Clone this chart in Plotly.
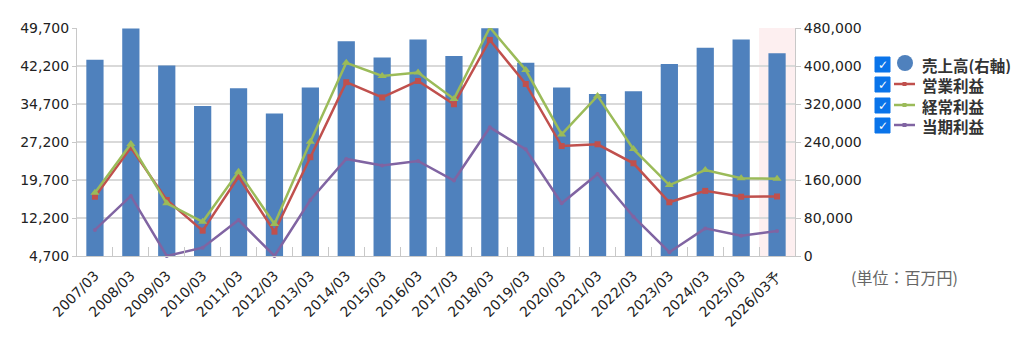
import plotly.graph_objects as go

categories = ["2007/03", "2008/03", "2009/03", "2010/03", "2011/03", "2012/03", "2013/03",
              "2014/03", "2015/03", "2016/03", "2017/03", "2018/03", "2019/03", "2020/03",
              "2021/03", "2022/03", "2023/03", "2024/03", "2025/03", "2026/03予"]

sales = [413000, 479000, 401000, 316000, 353000, 300000, 355000, 452000, 418000, 456000,
         421000, 479500, 407000, 355000, 341000, 347000, 404000, 438500, 456000, 427000]
operating = [16400, 26100, 15750, 9700, 20350, 9500, 24200, 39000, 36000, 39250,
             34650, 47350, 38650, 26400, 26750, 23000, 15300, 17550, 16400, 16450]
ordinary = [17200, 26800, 15100, 11450, 21350, 11000, 27250, 42850, 40250, 40900,
            35700, 49800, 41400, 28700, 36300, 25800, 18700, 21650, 20050, 19950]
net = [9850, 16550, 4700, 6350, 11800, 4700, 15750, 23850, 22550, 23450,
       19600, 30100, 25750, 15100, 20900, 12450, 5450, 10150, 8700, 9650]

left_ticks = [4700, 12200, 19700, 27200, 34700, 42200, 49700]
right_ticks = [0, 80000, 160000, 240000, 320000, 400000, 480000]

legend_names = ["売上高(右軸)", "営業利益", "経常利益", "当期利益"]
unit_label = "(単位：百万円)"

BLUE = "#4f81bd"
RED = "#c0504d"
GREEN = "#9bbb59"
PURPLE = "#8064a2"
FONT = "DejaVu Sans"
CJK = "Noto Sans CJK JP"

fig = go.Figure()
fig.add_trace(go.Bar(x=categories, y=sales, marker=dict(color=BLUE, line=dict(width=0)),
                     width=0.48, yaxis="y", showlegend=False))
fig.add_trace(go.Scatter(x=categories, y=operating, mode="lines+markers", yaxis="y2",
                         line=dict(color=RED, width=2.5),
                         marker=dict(symbol="square", size=6, color=RED),
                         showlegend=False, cliponaxis=False))
fig.add_trace(go.Scatter(x=categories, y=ordinary, mode="lines+markers", yaxis="y2",
                         line=dict(color=GREEN, width=2.5),
                         marker=dict(symbol="triangle-up", size=8, color=GREEN),
                         showlegend=False, cliponaxis=False))
fig.add_trace(go.Scatter(x=categories, y=net, mode="lines+markers", yaxis="y2",
                         line=dict(color=PURPLE, width=2.5),
                         marker=dict(symbol="circle", size=4, color=PURPLE),
                         showlegend=False, cliponaxis=False))

L, R, T, B = 77, 795, 28, 256
W, H = R - L, B - T


def px(x):
    return (x - L) / W


def py(y):
    return (B - y) / H


shapes = []
annotations = []

# forecast band
shapes.append(dict(type="rect", xref="x", yref="paper", x0=18.5, x1=19.5, y0=0, y1=1,
                   fillcolor="#fdeff0", line=dict(width=0), layer="below"))

# custom legend
rows = [64, 84, 105, 125]
for i, (name, yc) in enumerate(zip(legend_names, rows)):
    shapes.append(dict(type="rect", xref="paper", yref="paper",
                       x0=px(875), x1=px(890), y0=py(yc + 8), y1=py(yc - 7),
                       fillcolor="#0a74ea", line=dict(color="#0a74ea", width=1)))
    annotations.append(dict(xref="paper", yref="paper", x=px(882.5), y=py(yc + 0.5),
                            text="<b>✓</b>", showarrow=False, xanchor="center", yanchor="middle",
                            font=dict(family=FONT, size=12, color="white")))
    if i == 0:
        shapes.append(dict(type="circle", xref="paper", yref="paper",
                           x0=px(897), x1=px(913), y0=py(yc + 7), y1=py(yc - 9),
                           fillcolor=BLUE, line=dict(width=0)))
    else:
        col = [RED, GREEN, PURPLE][i - 1]
        shapes.append(dict(type="line", xref="paper", yref="paper",
                           x0=px(894), x1=px(915), y0=py(yc), y1=py(yc),
                           line=dict(color=col, width=2.5)))
        shapes.append(dict(type="rect", xref="paper", yref="paper",
                           x0=px(902.5), x1=px(906.5), y0=py(yc + 2), y1=py(yc - 2),
                           fillcolor=col, line=dict(width=0)))
    annotations.append(dict(xref="paper", yref="paper", x=px(921), y=py(yc),
                            text="<b>" + name + "</b>", showarrow=False,
                            xanchor="left", yanchor="middle", height=19, borderpad=0,
                            font=dict(family=CJK, size=15.5, color="#333333")))

annotations.append(dict(xref="paper", yref="paper", x=px(849), y=py(277),
                        text=unit_label, showarrow=False, xanchor="left", yanchor="middle",
                        font=dict(family=CJK, size=16, color="#666666")))

tick_font = dict(family=FONT, size=14, color="#222222")

fig.update_layout(
    width=1024, height=350,
    margin=dict(l=L, r=1024 - R, t=T, b=350 - B, pad=0),
    paper_bgcolor="white", plot_bgcolor="white",
    font=dict(family=FONT, size=14, color="#333333"),
    xaxis=dict(type="category", tickangle=-45, showgrid=False, showline=True,
               linecolor="#c8c8c8", linewidth=1, ticks="inside", tickson="boundaries",
               ticklen=9, tickcolor="#c8c8c8", tickfont=tick_font, ticklabelstandoff=5,
               range=[-0.5, 19.5], fixedrange=True),
    yaxis=dict(side="right", range=[0, 480000], tickvals=right_ticks,
               ticktext=[f"{v:,}" for v in right_ticks], showgrid=True, gridcolor="#d9d9d9",
               gridwidth=1.5, showline=True, linecolor="#c8c8c8", ticks="outside", ticklen=5,
               tickcolor="#c8c8c8", zeroline=False, tickfont=tick_font),
    yaxis2=dict(side="left", overlaying="y", range=[4700, 49700], tickvals=left_ticks,
                ticktext=[f"{v:,}" for v in left_ticks], showgrid=False, showline=True,
                linecolor="#c8c8c8", ticks="outside", ticklen=4, tickcolor="#c8c8c8",
                zeroline=False, tickfont=tick_font),
    shapes=shapes,
    annotations=annotations,
    showlegend=False,
)

fig.write_html("out.html")
